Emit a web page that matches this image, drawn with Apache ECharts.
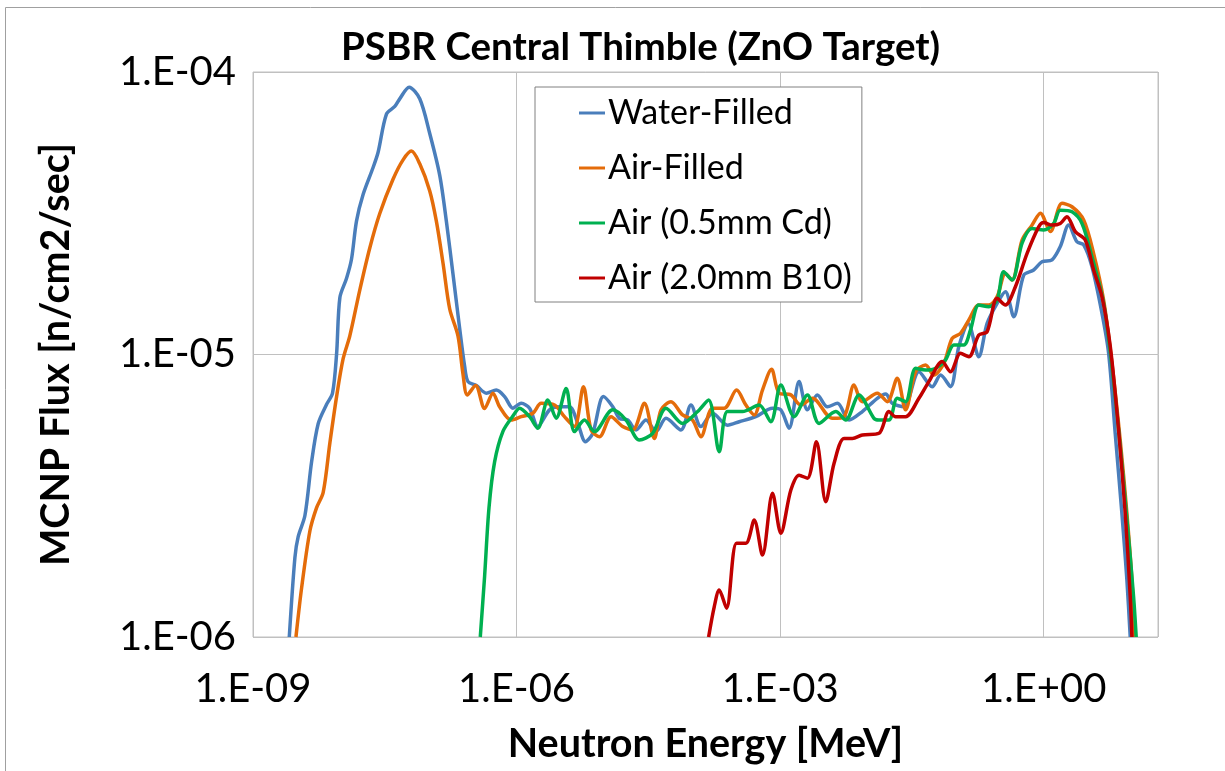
<!DOCTYPE html>
<html>
<head>
<meta charset="utf-8">
<script src="https://cdn.jsdelivr.net/npm/echarts@6/dist/echarts.min.js"></script>
<style>html,body{margin:0;padding:0;background:#fff;}#chart{width:1225px;height:771px;}</style>
</head>
<body>
<div id="chart"></div>
<script>
// Each point: [log10(Energy in MeV), log10(Flux in n/cm2/sec)]
const seriesNames = ['Water-Filled', 'Air-Filled', 'Air (0.5mm Cd)', 'Air (2.0mm B10)'];
const seriesColors = ['#4A7EBB', '#E46C0A', '#00B050', '#C00000'];

const waterFilled = [[-8.587,-6.0],[-8.523,-5.719],[-8.485,-5.644],[-8.409,-5.570],[-8.333,-5.380],[-8.258,-5.245],[-8.163,-5.177],[-8.095,-5.137],[-8.049,-5.0],[-8.011,-4.798],[-7.936,-4.731],[-7.879,-4.663],[-7.822,-4.528],[-7.746,-4.433],[-7.633,-4.338],[-7.576,-4.284],[-7.481,-4.149],[-7.386,-4.122],[-7.330,-4.095],[-7.223,-4.054],[-7.102,-4.095],[-6.989,-4.217],[-6.875,-4.365],[-6.799,-4.528],[-6.723,-4.717],[-6.648,-4.907],[-6.591,-5.042],[-6.553,-5.096],[-6.458,-5.110],[-6.344,-5.137],[-6.231,-5.126],[-6.136,-5.149],[-6.042,-5.190],[-5.947,-5.173],[-5.852,-5.190],[-5.758,-5.255],[-5.625,-5.196],[-5.511,-5.185],[-5.398,-5.185],[-5.303,-5.244],[-5.216,-5.309],[-5.133,-5.279],[-5.011,-5.149],[-4.905,-5.185],[-4.830,-5.226],[-4.735,-5.232],[-4.640,-5.267],[-4.527,-5.232],[-4.413,-5.273],[-4.299,-5.226],[-4.129,-5.267],[-4.015,-5.179],[-3.902,-5.255],[-3.769,-5.208],[-3.599,-5.250],[-3.466,-5.238],[-3.277,-5.220],[-3.087,-5.190],[-2.992,-5.196],[-2.898,-5.261],[-2.784,-5.096],[-2.689,-5.196],[-2.576,-5.143],[-2.462,-5.185],[-2.348,-5.173],[-2.216,-5.232],[-2.064,-5.202],[-1.894,-5.155],[-1.799,-5.140],[-1.724,-5.173],[-1.591,-5.185],[-1.420,-5.061],[-1.269,-5.114],[-1.174,-5.073],[-1.061,-5.114],[-0.966,-4.972],[-0.860,-4.890],[-0.739,-5.008],[-0.644,-4.890],[-0.530,-4.819],[-0.436,-4.778],[-0.341,-4.866],[-0.227,-4.719],[-0.114,-4.701],[-0.019,-4.672],[0.095,-4.665],[0.189,-4.618],[0.284,-4.542],[0.379,-4.601],[0.455,-4.612],[0.549,-4.689],[0.663,-4.854],[0.739,-4.996],[0.814,-5.279],[0.890,-5.562],[0.947,-5.798],[0.985,-6.0]];

const airFilled = [[-8.511,-6.0],[-8.447,-5.827],[-8.352,-5.624],[-8.277,-5.543],[-8.201,-5.488],[-8.125,-5.313],[-8.049,-5.150],[-7.974,-5.015],[-7.898,-4.934],[-7.784,-4.771],[-7.670,-4.622],[-7.557,-4.501],[-7.405,-4.379],[-7.292,-4.311],[-7.197,-4.280],[-7.102,-4.325],[-6.989,-4.420],[-6.913,-4.528],[-6.837,-4.677],[-6.761,-4.839],[-6.667,-4.934],[-6.610,-5.069],[-6.561,-5.143],[-6.466,-5.110],[-6.364,-5.191],[-6.269,-5.137],[-6.193,-5.185],[-6.061,-5.232],[-5.947,-5.220],[-5.814,-5.208],[-5.720,-5.173],[-5.568,-5.179],[-5.455,-5.220],[-5.341,-5.255],[-5.239,-5.114],[-5.152,-5.267],[-5.057,-5.291],[-4.924,-5.220],[-4.792,-5.255],[-4.678,-5.267],[-4.545,-5.173],[-4.432,-5.297],[-4.356,-5.196],[-4.242,-5.167],[-4.110,-5.214],[-3.996,-5.232],[-3.902,-5.291],[-3.769,-5.190],[-3.636,-5.190],[-3.496,-5.126],[-3.390,-5.179],[-3.295,-5.214],[-3.201,-5.126],[-3.098,-5.052],[-3.011,-5.137],[-2.878,-5.143],[-2.765,-5.179],[-2.633,-5.155],[-2.405,-5.226],[-2.273,-5.220],[-2.159,-5.108],[-2.064,-5.167],[-1.894,-5.137],[-1.780,-5.167],[-1.667,-5.084],[-1.572,-5.196],[-1.458,-5.061],[-1.345,-5.037],[-1.250,-5.073],[-1.136,-5.031],[-1.042,-4.943],[-0.947,-4.925],[-0.852,-4.878],[-0.739,-4.825],[-0.625,-4.825],[-0.530,-4.795],[-0.436,-4.713],[-0.360,-4.736],[-0.246,-4.595],[-0.133,-4.542],[-0.038,-4.500],[0.076,-4.565],[0.208,-4.465],[0.322,-4.477],[0.455,-4.524],[0.568,-4.642],[0.682,-4.807],[0.777,-5.031],[0.871,-5.303],[0.947,-5.562],[1.004,-5.798],[1.034,-6.0]];

const airCd = [[-6.413,-6.0],[-6.364,-5.786],[-6.314,-5.543],[-6.250,-5.380],[-6.155,-5.272],[-6.042,-5.218],[-5.966,-5.190],[-5.852,-5.220],[-5.758,-5.261],[-5.644,-5.161],[-5.549,-5.226],[-5.436,-5.120],[-5.341,-5.273],[-5.227,-5.232],[-5.114,-5.273],[-4.905,-5.196],[-4.754,-5.232],[-4.602,-5.303],[-4.451,-5.279],[-4.299,-5.190],[-4.110,-5.244],[-3.939,-5.202],[-3.814,-5.161],[-3.693,-5.344],[-3.599,-5.202],[-3.428,-5.202],[-3.239,-5.179],[-3.106,-5.238],[-2.992,-5.108],[-2.841,-5.220],[-2.689,-5.143],[-2.557,-5.244],[-2.367,-5.202],[-2.253,-5.232],[-2.102,-5.143],[-1.932,-5.226],[-1.875,-5.232],[-1.761,-5.232],[-1.667,-5.155],[-1.572,-5.167],[-1.458,-5.049],[-1.345,-5.055],[-1.231,-5.049],[-1.117,-5.019],[-1.023,-4.966],[-0.909,-4.966],[-0.833,-4.913],[-0.739,-4.825],[-0.625,-4.831],[-0.530,-4.807],[-0.455,-4.707],[-0.360,-4.736],[-0.246,-4.606],[-0.133,-4.554],[0.0,-4.559],[0.114,-4.536],[0.189,-4.489],[0.322,-4.495],[0.436,-4.536],[0.549,-4.654],[0.682,-4.818],[0.777,-5.043],[0.871,-5.326],[0.958,-5.621],[1.023,-5.857],[1.053,-6.0]];

const airB10 = [[-3.814,-6.0],[-3.750,-5.893],[-3.693,-5.834],[-3.610,-5.898],[-3.496,-5.668],[-3.390,-5.668],[-3.295,-5.586],[-3.201,-5.710],[-3.087,-5.491],[-2.992,-5.633],[-2.878,-5.480],[-2.784,-5.427],[-2.689,-5.438],[-2.587,-5.309],[-2.481,-5.521],[-2.386,-5.385],[-2.273,-5.297],[-2.178,-5.297],[-2.064,-5.285],[-1.875,-5.279],[-1.761,-5.202],[-1.686,-5.220],[-1.572,-5.220],[-1.420,-5.155],[-1.307,-5.096],[-1.155,-5.025],[-1.061,-5.061],[-0.947,-4.996],[-0.852,-5.008],[-0.739,-4.931],[-0.644,-4.919],[-0.530,-4.801],[-0.436,-4.825],[-0.322,-4.760],[-0.189,-4.642],[-0.057,-4.548],[0.0,-4.533],[0.095,-4.542],[0.189,-4.536],[0.265,-4.512],[0.360,-4.565],[0.473,-4.595],[0.568,-4.701],[0.663,-4.795],[0.758,-4.972],[0.852,-5.267],[0.928,-5.562],[0.985,-5.857],[1.004,-6.0]];

const allSeries = [waterFilled, airFilled, airCd, airB10];
const FONT = 'Lato, "Noto Sans", sans-serif';

function toValues(arr) { return arr.map(p => [Math.pow(10, p[0]), Math.pow(10, p[1])]); }
function expLabel(v) {
  const e = Math.log10(v), r = Math.round(e);
  if (Math.abs(e - r) > 1e-6) return '';
  return '1.E' + (r < 0 ? '-' : '+') + String(Math.abs(r)).padStart(2, '0');
}

const chart = echarts.init(document.getElementById('chart'), null, { renderer: 'canvas' });
chart.setOption({
  animation: false,
  backgroundColor: '#fff',
  graphic: [{ type: 'rect', shape: { x: 5.5, y: 7.5, width: 1400, height: 900 }, style: { fill: 'none', stroke: '#a0a0a0', lineWidth: 1 }, silent: true }],
  title: {
    text: 'PSBR Central Thimble (ZnO Target)',
    left: 336, top: 23,
    textStyle: { fontFamily: FONT, fontSize: 38.5, fontWeight: 'bold', color: '#000' }
  },
  legend: {
    data: seriesNames,
    orient: 'vertical',
    left: 535, top: 87,
    padding: [6, 10, 4, 44],
    itemGap: 15,
    itemWidth: 26, itemHeight: 3,
    icon: 'rect',
    backgroundColor: '#fff',
    borderColor: '#808080', borderWidth: 1,
    textStyle: { fontFamily: FONT, fontSize: 34, color: '#000', lineHeight: 40, padding: [0, 0, 0, -2] }
  },
  grid: { left: 253, right: 67, top: 72, bottom: 134, show: true, borderColor: '#c0c0c0', borderWidth: 1, containLabel: false },
  xAxis: {
    type: 'log', logBase: 10, min: 1e-9, max: 20, interval: 3,
    name: 'Neutron Energy [MeV]', nameLocation: 'middle', nameGap: 87,
    nameTextStyle: { fontFamily: FONT, fontSize: 39.5, fontWeight: 'bold', color: '#000' },
    axisLine: { show: false }, axisTick: { show: false },
    axisLabel: { formatter: expLabel, fontFamily: FONT, fontSize: 40, color: '#000', margin: 32, showMaxLabel: false },
    splitLine: { show: true, lineStyle: { color: '#c0c0c0', width: 1 } }
  },
  yAxis: {
    type: 'log', logBase: 10, min: 1e-6, max: 1e-4, interval: 1,
    name: 'MCNP Flux [n/cm2/sec]', nameLocation: 'middle', nameGap: 177,
    nameTextStyle: { fontFamily: FONT, fontSize: 39.5, fontWeight: 'bold', color: '#000' },
    axisLine: { show: false }, axisTick: { show: false },
    axisLabel: { formatter: expLabel, fontFamily: FONT, fontSize: 40, color: '#000', margin: 17 },
    splitLine: { show: true, lineStyle: { color: '#c0c0c0', width: 1 } }
  },
  series: allSeries.map((arr, i) => ({
    name: seriesNames[i],
    type: 'line',
    data: toValues(arr),
    showSymbol: false,
    smooth: 0.3,
    clip: true,
    color: seriesColors[i],
    lineStyle: { width: 3.5, color: seriesColors[i] }
  }))
});
</script>
</body>
</html>
